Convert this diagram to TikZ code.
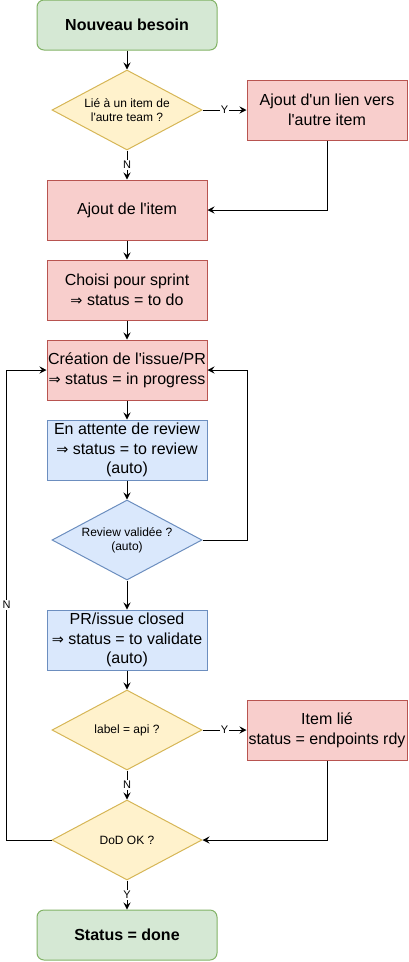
\documentclass[tikz,border=0pt]{standalone}
\usepackage{fontspec}
\setmainfont{Liberation Sans}
\newfontfamily\symfont[Scale=0.9]{DejaVu Sans}
\usepackage{xcolor}
\usepackage{tikz}
\usetikzlibrary{shapes.geometric}
\usetikzlibrary{arrows.meta}

\definecolor{grnfill}{HTML}{D5E8D4}
\definecolor{grnline}{HTML}{82B366}
\definecolor{yelfill}{HTML}{FFF2CC}
\definecolor{yelline}{HTML}{D6B656}
\definecolor{redfill}{HTML}{F8CECC}
\definecolor{redline}{HTML}{B85450}
\definecolor{blufill}{HTML}{DAE8FC}
\definecolor{bluline}{HTML}{6C8EBF}

\newcommand{\impl}{{\symfont ⇒}}
\newcommand{\apo}{\textquotesingle}

\begin{document}
\begin{tikzpicture}
[x=1pt,y=-1pt,
termi/.style={rectangle,rounded corners=7pt,draw=grnline,fill=grnfill,line width=1pt,minimum width=180pt,minimum height=50pt,inner sep=0pt,font=\fontsize{16}{20}\selectfont\bfseries},
redb/.style={rectangle,draw=redline,fill=redfill,line width=1pt,minimum width=160pt,minimum height=60pt,inner sep=0pt,align=center,font=\fontsize{16}{20}\selectfont},
blub/.style={rectangle,draw=bluline,fill=blufill,line width=1pt,minimum width=160pt,minimum height=60pt,inner sep=0pt,align=center,font=\fontsize{16}{19.5}\selectfont},
decy/.style={diamond,aspect=1.875,draw=yelline,fill=yelfill,line width=1pt,minimum width=150pt,minimum height=80pt,inner sep=0pt,align=center,font=\fontsize{12}{14}\selectfont},
decb/.style={decy,draw=bluline,fill=blufill},
flow/.style={line width=1pt,-{Stealth[length=7pt,width=7pt,inset=2.5pt]}},
lab/.style={fill=white,inner sep=1pt,font=\fontsize{11}{13}\selectfont}]
\useasboundingbox (0,0) rectangle (408,962);
% boxes
\node at (127,25) [termi] (besoin) {Nouveau besoin};
\node at (127,110) [decy] (lie) {Lié à un item de\\l\apo autre team ?};
\node at (327,110) [redb] (lien) {Ajout d\apo un lien vers\\l\apo autre item};
\node at (127,210) [redb] (item) {Ajout de l\apo item};
\node at (127,290) [redb] (sprint) {Choisi pour sprint\\\impl{} status = to do};
\node at (127,370) [redb] (crea) {Création de l\apo issue/PR\\\impl{} status = in progress};
\node at (127,450) [blub] (attente) {En attente de review\\\impl{} status = to review\\(auto)};
\node at (127,540) [decb] (review) {Review validée ?\\(auto)};
\node at (127,640) [blub] (closed) {PR/issue closed\\\impl{} status = to validate\\(auto)};
\node at (127,730) [decy] (api) {label = api ?};
\node at (327,730) [redb] (itemlie) {Item lié\\status = endpoints rdy};
\node at (127,840) [decy] (dod) {DoD OK ?};
\node at (127,935) [termi] (done) {Status = done};
% arrows
\draw[flow] (besoin) -- (lie);
\draw[flow] (lie) -- node[lab]{Y} (lien);
\draw[flow] (lie) -- node[lab]{N} (item);
\draw[flow] (lien) |- (item);
\draw[flow] (item) -- (sprint);
\draw[flow] (sprint) -- (crea);
\draw[flow] (crea) -- (attente);
\draw[flow] (attente) -- (review);
\draw[flow] (review.east) -- ++(45,0) |- (crea.east);
\draw[flow] (review) -- (closed);
\draw[flow] (closed) -- (api);
\draw[flow] (api) -- node[lab]{Y} (itemlie);
\draw[flow] (api) -- node[lab]{N} (dod);
\draw[flow] (itemlie) |- (dod.east);
\draw[flow] (dod.west) -- ++(-45,0) |- node[lab,pos=0.25]{N} (crea.west);
\draw[flow] (dod) -- node[lab]{Y} (done);
\end{tikzpicture}
\end{document}
